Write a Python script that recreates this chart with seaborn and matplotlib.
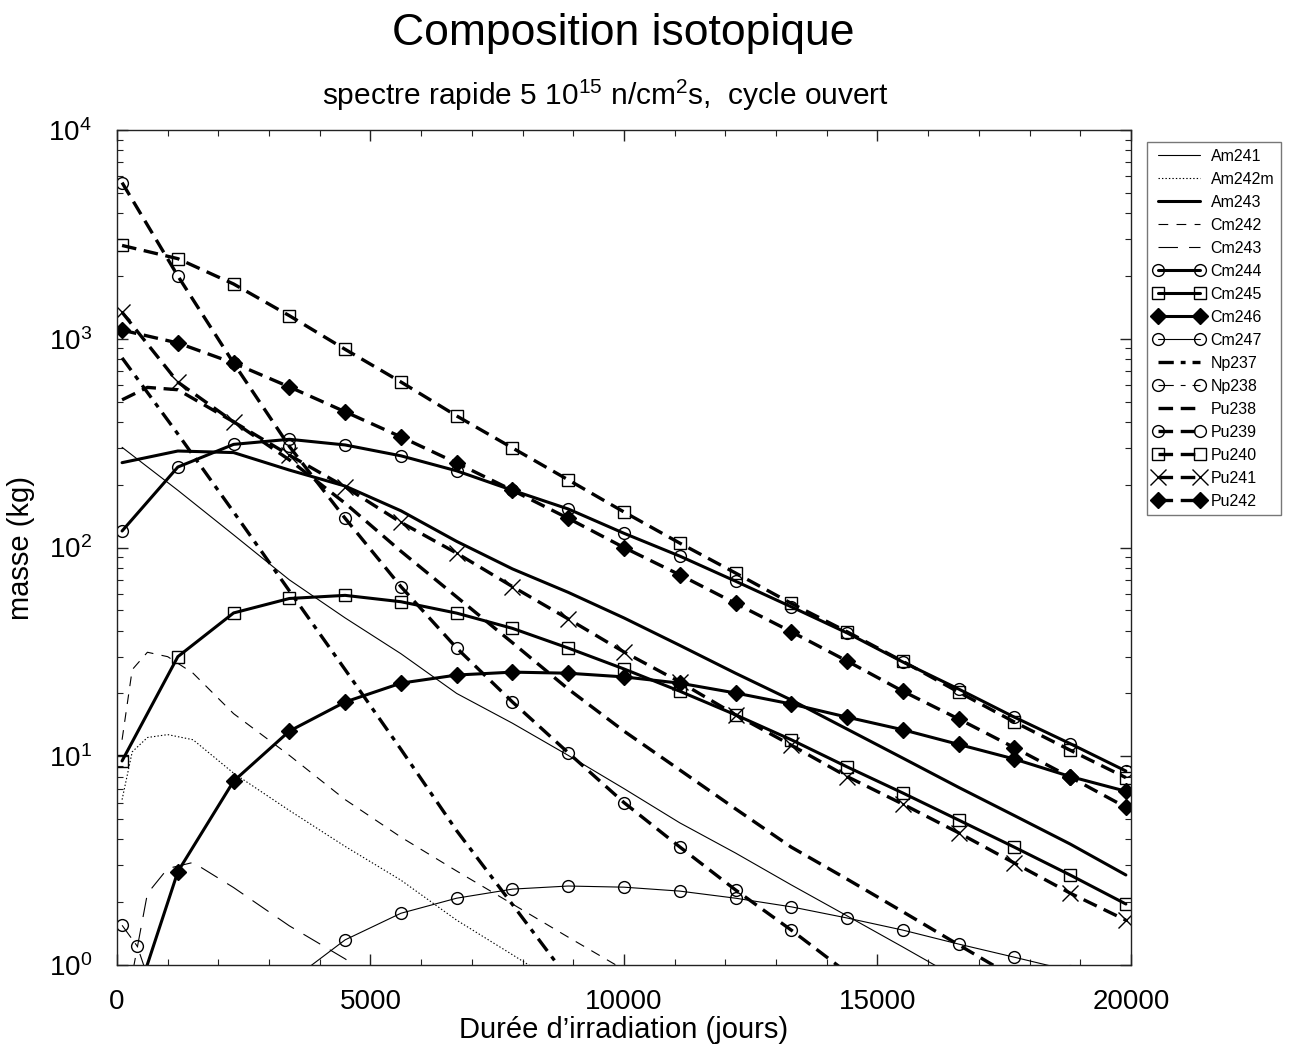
import matplotlib
matplotlib.use('Agg')
import matplotlib.pyplot as plt
import seaborn as sns
import numpy as np
from matplotlib.ticker import MultipleLocator, LogLocator, NullFormatter

# time grid of the marked points (jours)
T = [100, 1200, 2300, 3400, 4500, 5600, 6700, 7800, 8900, 10000,
     11100, 12200, 13300, 14400, 15500, 16600, 17700, 18800, 19900]
T_early = [100, 300, 600, 1000, 1500, 2300, 3400, 4500, 5600, 6700, 7800, 8900, 10000]
T_pu238 = [100, 600, 1200, 2300, 3400, 4500, 5600, 6700, 7800, 8900, 10000,
           11100, 12200, 13300, 14400, 15500, 16600, 17700, 18800, 19900]
T_np238 = [100, 400, 700]

# masses (kg)
am241 = [302, 188, 115, 70, 46, 31, 20, 14.4, 10.1, 7.0, 4.8, 3.44, 2.42, 1.72, 1.22, 0.86, 0.6, 0.42, 0.3]
am242m = [6.2, 10.5, 12.3, 12.7, 12.0, 8.3, 5.5, 3.7, 2.55, 1.64, 1.12, 0.76]
am243 = [255, 290, 285, 235, 197, 150, 107, 79, 61, 46, 34, 25, 18.6, 13.5, 9.8, 7.1, 5.2, 3.8, 2.7]
cm242 = [12, 26, 31.5, 30, 25, 16, 10.1, 6.2, 4.1, 2.82, 1.96, 1.36, 0.95]
cm243 = [0.45, 0.9, 2.2, 2.9, 3.1, 2.35, 1.54, 1.07, 0.7]
cm244 = [120, 243, 312, 330, 310, 275, 233, 188, 153, 117, 91, 69, 52, 39, 28.3, 21, 15.4, 11.5, 8.5]
cm245 = [9.5, 30, 48.6, 57, 59, 55, 48.5, 41, 33, 26.2, 20.5, 15.8, 12.0, 8.9, 6.67, 4.95, 3.67, 2.7, 1.96]
cm246 = [0.43, 2.8, 7.6, 13.2, 18.2, 22.4, 24.5, 25.3, 25.0, 24.0, 22.4, 20.1, 17.8, 15.4, 13.4, 11.4, 9.7, 8.0, 6.8]
cm247 = [0.0005, 0.03, 0.3, 0.83, 1.32, 1.77, 2.09, 2.31, 2.39, 2.36, 2.26, 2.09, 1.90, 1.68, 1.47, 1.26, 1.09, 0.94, 0.8]
np237 = [810, 350, 148, 62, 26, 10.8, 4.4, 1.95, 0.86]
np238 = [1.55, 1.23, 0.75]
pu238 = [510, 585, 570, 400, 263, 163, 96, 58, 35, 21, 13.2, 8.6, 5.6, 3.67, 2.58, 1.8, 1.25, 0.87, 0.6, 0.42]
pu239 = [5600, 2000, 765, 305, 138, 65, 33, 18.2, 10.4, 6.0, 3.68, 2.29, 1.47, 0.92, 0.6, 0.38, 0.24, 0.15, 0.1]
pu240 = [2800, 2420, 1830, 1290, 890, 621, 427, 300, 211, 148, 105, 75.5, 54, 39.5, 28.5, 20.3, 14.6, 10.7, 7.9]
pu241 = [1340, 620, 400, 277, 195, 132, 94, 65, 45.5, 31.6, 22.7, 15.8, 11.3, 8.0, 5.9, 4.3, 3.08, 2.21, 1.64]
pu242 = [1100, 955, 765, 588, 447, 339, 254, 188, 138, 100, 74, 54, 39.5, 28.6, 20.5, 15.1, 11.0, 7.95, 5.7]

series = [
    ('Am241', T, am241), ('Am242m', T_early[:12], am242m), ('Am243', T, am243),
    ('Cm242', T_early, cm242), ('Cm243', T_early[:9], cm243), ('Cm244', T, cm244),
    ('Cm245', T, cm245), ('Cm246', T, cm246), ('Cm247', T, cm247),
    ('Np237', T[:9], np237), ('Np238', T_np238, np238), ('Pu238', T_pu238, pu238),
    ('Pu239', T, pu239), ('Pu240', T, pu240), ('Pu241', T, pu241), ('Pu242', T, pu242),
]

thin, thick, dash_lw = 0.8, 2.2, 2.4
pu_dash = (0, (10.5, 5.5))
dashdot = (0, (11, 5, 3.5, 5))
# name: (linewidth, linestyle, marker, markersize, filled)
styles = {
    'Am241': (thin, '-', None, 0, False),
    'Am242m': (thin, (0, (1, 1.5)), None, 0, False),
    'Am243': (thick, '-', None, 0, False),
    'Cm242': (thin, (0, (7, 6)), None, 0, False),
    'Cm243': (thin, (0, (14, 8)), None, 0, False),
    'Cm244': (thick, '-', 'o', 8.5, False),
    'Cm245': (thick, '-', 's', 8.5, False),
    'Cm246': (thick, '-', 'D', 8, True),
    'Cm247': (thin, '-', 'o', 8.5, False),
    'Np237': (dash_lw, dashdot, None, 0, False),
    'Np238': (thin, dashdot, 'o', 8.5, False),
    'Pu238': (dash_lw, pu_dash, None, 0, False),
    'Pu239': (dash_lw, pu_dash, 'o', 8.5, False),
    'Pu240': (dash_lw, pu_dash, 's', 8.5, False),
    'Pu241': (dash_lw, pu_dash, 'x', 12, False),
    'Pu242': (dash_lw, pu_dash, 'D', 8, True),
}

sns.set_style('ticks')
plt.rcParams['font.family'] = ['Liberation Sans', 'DejaVu Sans']
plt.rcParams['mathtext.fontset'] = 'custom'
plt.rcParams['mathtext.rm'] = 'Liberation Sans'
plt.rcParams['mathtext.it'] = 'Liberation Sans:italic'
plt.rcParams['lines.scale_dashes'] = False
plt.rcParams['text.color'] = 'black'
plt.rcParams['axes.labelcolor'] = 'black'
plt.rcParams['xtick.labelcolor'] = 'black'
plt.rcParams['ytick.labelcolor'] = 'black'

fig = plt.figure(figsize=(12.9, 10.47), dpi=100)
ax = fig.add_axes([0.0907, 0.0783, 0.786, 0.7975])

handles = []
for name, t, v in series:
    lw, ls, mk, ms, filled = styles[name]
    kw = dict(color='black', linewidth=lw, linestyle=ls)
    if mk:
        kw.update(marker=mk, markersize=ms, markeredgecolor='black',
                  markerfacecolor='black' if filled else 'none',
                  markeredgewidth=1.0)
    sns.lineplot(x=t, y=v, ax=ax, errorbar=None, estimator=None, sort=False,
                 legend=False, **kw)
    line = ax.lines[-1]
    line.set_linestyle(ls)
    line.set_label(name)
    handles.append(line)

ax.set_yscale('log')
ax.set_xlim(0, 20000)
ax.set_ylim(1, 1e4)

ax.xaxis.set_major_locator(MultipleLocator(5000))
ax.xaxis.set_minor_locator(MultipleLocator(1000))
ax.yaxis.set_major_locator(LogLocator(base=10))
ax.yaxis.set_minor_locator(LogLocator(base=10, subs=np.arange(2, 10)))
ax.yaxis.set_minor_formatter(NullFormatter())
ax.tick_params(which='both', direction='in', top=True, right=True,
               color='#222222', labelsize=20)
ax.tick_params(which='major', length=8, width=1)
ax.tick_params(which='minor', length=4.5, width=0.8)
ax.tick_params(axis='x', pad=17)
ax.tick_params(axis='y', pad=18)
for sp in ax.spines.values():
    sp.set_color('#222222')
    sp.set_linewidth(1.0)

ax.set_xlabel('Durée d\u2019irradiation (jours)', fontsize=21, labelpad=1)
ax.set_ylabel('masse (kg)', fontsize=21, labelpad=10)

fig.text(0.483, 0.968, 'Composition isotopique', fontsize=32,
         ha='center', va='center')
fig.text(0.469, 0.909, r'spectre rapide 5 10$^{15}$ n/cm$^{2}$s,  cycle ouvert',
         fontsize=21.5, ha='center', va='center')

leg = fig.legend(handles=handles, loc='upper left', bbox_to_anchor=(0.889, 0.864),
                 borderaxespad=0, fontsize=11.5, numpoints=2, handlelength=3.2,
                 handletextpad=0.4, labelspacing=0.5, borderpad=0.4,
                 fancybox=False, frameon=True, edgecolor='#555555')
leg.get_frame().set_linewidth(1.0)

fig.savefig('out.png', dpi=100)
